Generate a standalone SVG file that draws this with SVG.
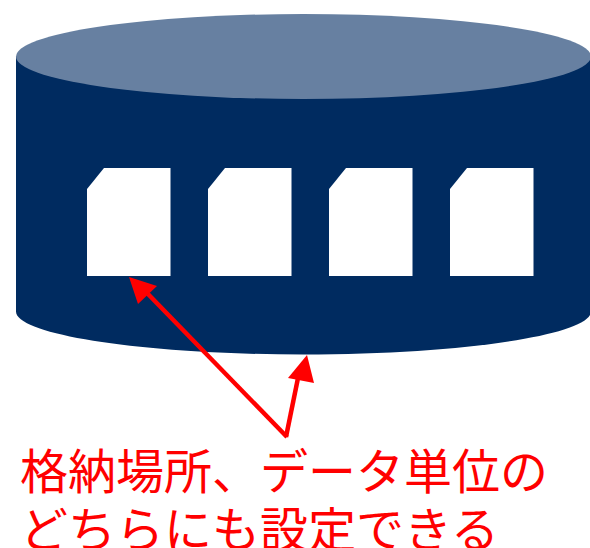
<svg xmlns="http://www.w3.org/2000/svg" width="590" height="548" viewBox="0 0 590 548">
<style>
.card{fill:#fff}
.lbl{fill:#f00;font-family:"Noto Sans CJK JP","Noto Sans",sans-serif;font-size:48px;font-weight:400}
.arr{stroke:#f00;stroke-width:4.500;fill:none}
.head{fill:#f00}
</style>
<rect width="590" height="548" fill="#fff"/>
<g id="cylinder">
<path d="M16 56.500V311.500C16 335 145 354.500 303.500 354.500S591 335 591 311.500V56.500Z" fill="#002b60"/>
<ellipse cx="303.500" cy="56.500" rx="287.500" ry="42.500" fill="#6780a1"/>
</g>
<g id="card1"><path class="card" d="M87 189L104 168H170.500V276H87Z"/></g>
<g id="card2"><path class="card" d="M208 189L225 168H291.500V276H208Z"/></g>
<g id="card3"><path class="card" d="M329 189L346 168H412.500V276H329Z"/></g>
<g id="card4"><path class="card" d="M450 189L467 168H533.500V276H450Z"/></g>
<g id="connectors">
<path class="arr" d="M287 437L148 294"/>
<path class="arr" d="M286 437L298 378"/>
<path class="head" d="M129 277L157 286L138 304Z"/>
<path class="head" d="M307 355L288 378L314 383Z"/>
</g>
<g id="label">
<text class="lbl" x="20" y="489">格納場所、データ単位の</text>
<text class="lbl" x="20" y="547">どちらにも設定できる</text>
</g>
</svg>
